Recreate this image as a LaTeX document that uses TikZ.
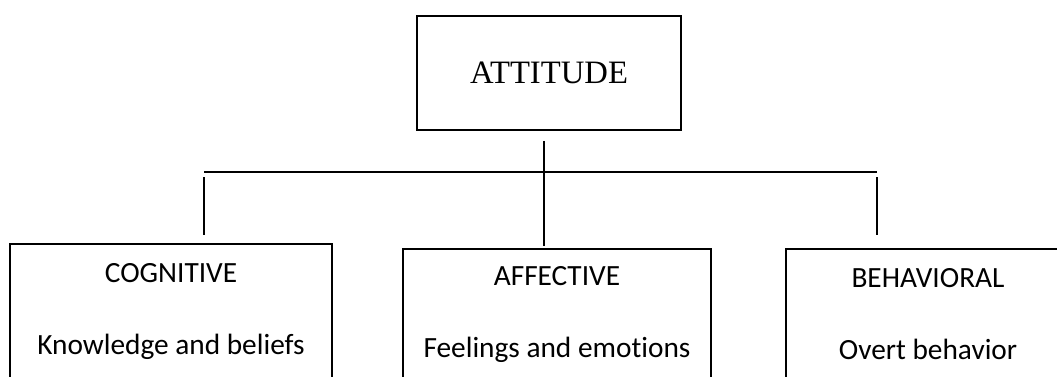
\documentclass[tikz,border=0pt]{standalone}
\usepackage{fontspec}
\setmainfont{Liberation Serif}
\newfontfamily\calfont[Ligatures=NoCommon]{Carlito}

\begin{document}
\begin{tikzpicture}[x=0.75pt, y=-0.75pt, line width=1.2pt,
  part/.style={draw, rectangle, align=center, inner sep=0pt, font=\calfont\fontsize{22}{26}\selectfont}]
\useasboundingbox (0,0) rectangle (1057,376);
\clip (0,0) rectangle (1057,376);

\node [draw, minimum width=198pt, minimum height=85.5pt, font=\fontsize{24.5}{29}\selectfont] (att) at (549,73) {ATTITUDE};

\node [part, minimum width=241.5pt, minimum height=101.25pt] (cog) at (171,311.5) {COGNITIVE\\[28pt]Knowledge and beliefs};
\node [part, minimum width=231pt, minimum height=97.5pt] (aff) at (557,314) {AFFECTIVE\\[28pt]Feelings and emotions};
\node [part, minimum width=213pt, minimum height=97.5pt] (beh) at (928,314) {BEHAVIORAL\\[28pt]Overt behavior};

\coordinate (jl) at (204,172);
\coordinate (jr) at (877,172);
\draw (jl) -- (jr);
%\draw (att.south) -- (aff.north);
\draw ([xshift=-3.75pt, yshift=-7.5pt]att.south) -- ([xshift=-3.75pt, yshift=1.5pt]att.south |- aff.north);
\draw ([yshift=-3.75pt]jl) -- ([yshift=6pt]jl |- cog.north);
\draw ([yshift=-3.75pt]jr) -- ([yshift=9.75pt]jr |- beh.north);
\end{tikzpicture}
\end{document}
